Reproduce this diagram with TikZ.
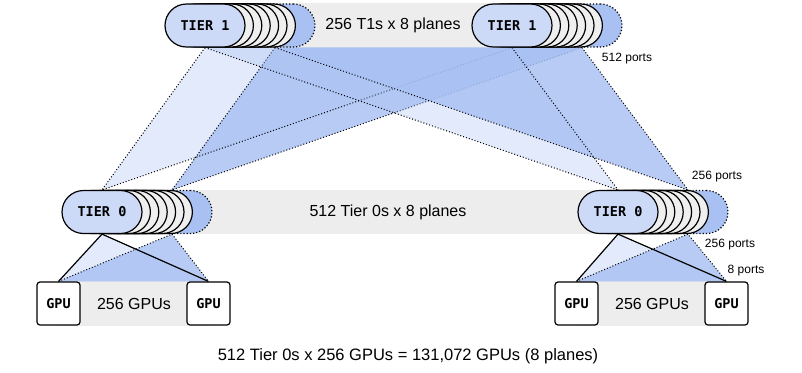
\documentclass[tikz,border=0pt]{standalone}
\usepackage{fontspec}
\setmainfont{Liberation Sans}
\setmonofont{DejaVu Sans Mono}
\usetikzlibrary{backgrounds}
\begin{document}
\begin{tikzpicture}[x=0.5pt,y=-0.5pt]
\definecolor{cband}{HTML}{EDEDED}\definecolor{cplane}{HTML}{EFEFEF}
\definecolor{cfront}{HTML}{CCDAF8}\definecolor{cback}{HTML}{A8C0F2}
\definecolor{cwedge}{HTML}{A8C0F3}
\tikzset{pill/.style={rounded corners=10.75pt,draw=black,line width=0.6pt,minimum width=40pt,minimum height=21.5pt,inner sep=0pt},
 frontpill/.style={pill,fill=cfront,font=\ttfamily\bfseries\fontsize{6.75}{8}\selectfont},
 planepill/.style={pill,fill=cplane},
 backpill/.style={pill,fill=cback,densely dotted},
 gpubox/.style={rounded corners=1.5pt,draw=black,line width=0.6pt,fill=white,minimum size=21.5pt,inner sep=0pt,font=\ttfamily\bfseries\fontsize{6.75}{8}\selectfont},
 bandtext/.style={font=\fontsize{8}{9}\selectfont},
 ports/.style={font=\fontsize{6}{7}\selectfont},
 wedgelight/.style={fill=cwedge,fill opacity=0.33},
 wedgedark/.style={fill=cwedge,fill opacity=0.83},
 link/.style={densely dotted,line width=0.5pt}}
\useasboundingbox (0,0) rectangle (802,372);
% tier 1 stacks
\node[backpill] (t1a-b) at (275,25.5) {};
\foreach \k in {6,...,1} \node[planepill] (t1a-\k) at (205+8.4*\k,25.5) {};
\node[frontpill] (t1a) at (205,25.5) {TIER 1};
\node[backpill] (t1b-b) at (582,25.5) {};
\foreach \k in {6,...,1} \node[planepill] (t1b-\k) at (512+8.4*\k,25.5) {};
\node[frontpill] (t1b) at (512,25.5) {TIER 1};
% tier 0 stacks
\node[backpill] (t0a-b) at (172,212) {};
\foreach \k in {6,...,1} \node[planepill] (t0a-\k) at (102+8.4*\k,212) {};
\node[frontpill] (t0a) at (102,212) {TIER 0};
\node[backpill] (t0b-b) at (688,212) {};
\foreach \k in {6,...,1} \node[planepill] (t0b-\k) at (618+8.4*\k,212) {};
\node[frontpill] (t0b) at (618,212) {TIER 0};
% gpus
\node[gpubox] (ga1) at (58.5,303.5) {GPU};
\node[gpubox] (ga2) at (208.5,303.5) {GPU};
\node[gpubox] (gb1) at (576.5,303.5) {GPU};
\node[gpubox] (gb2) at (726.5,303.5) {GPU};
% bands, wedges and links
\begin{scope}[on background layer]
\fill[cband] (t1a.north) rectangle (t1b.south);
\fill[cband] (t0a.north) rectangle (t0b.south);
\fill[cband] (ga1.north) rectangle (ga2.south);
\fill[cband] (gb1.north) rectangle (gb2.south);
\foreach \d in {t0a,t0b} {
  \fill[wedgelight] (\d.north) -- (t1a.south) -- (t1b.south) -- cycle;
  \fill[wedgedark] (\d-b.north) -- (t1a-b.south) -- (t1b-b.south) -- cycle;
  \foreach \s in {t1a,t1b} {
    \draw[link] (\s.south) -- (\d.north);
    \draw[link] (\s-b.south) -- (\d-b.north);
  }
}
\fill[wedgelight] (t0a.south) -- (ga1.north) -- (ga2.north) -- cycle;
\fill[wedgedark] (t0a-b.south) -- (ga1.north) -- (ga2.north) -- cycle;
\fill[wedgelight] (t0b.south) -- (gb1.north) -- (gb2.north) -- cycle;
\fill[wedgedark] (t0b-b.south) -- (gb1.north) -- (gb2.north) -- cycle;
\draw[line width=0.6pt] (ga1.north) -- (t0a.south) -- (ga2.north);
\draw[line width=0.6pt] (gb1.north) -- (t0b.south) -- (gb2.north);
\draw[link] (ga1.north) -- (t0a-b.south) -- (ga2.north);
\draw[link] (gb1.north) -- (t0b-b.south) -- (gb2.north);
\end{scope}
% labels
\node[bandtext] (t1txt) at (393,25.5) {256 T1s x 8 planes};
\node[bandtext] (t0txt) at (388,212) {512 Tier 0s x 8 planes};
\node[bandtext] (gatxt) at (134,303.5) {256 GPUs};
\node[bandtext] (gbtxt) at (652,303.5) {256 GPUs};
\node[ports] (p512) at (627,59) {512 ports};
\node[ports] (p256up) at (717,177) {256 ports};
\node[ports] (p256dn) at (730,245) {256 ports};
\node[ports] (p8) at (746,271) {8 ports};
\node[font=\fontsize{8.25}{10}\selectfont] (total) at (408,356) {512 Tier 0s x 256 GPUs = 131,072 GPUs (8 planes)};
\end{tikzpicture}
\end{document}
